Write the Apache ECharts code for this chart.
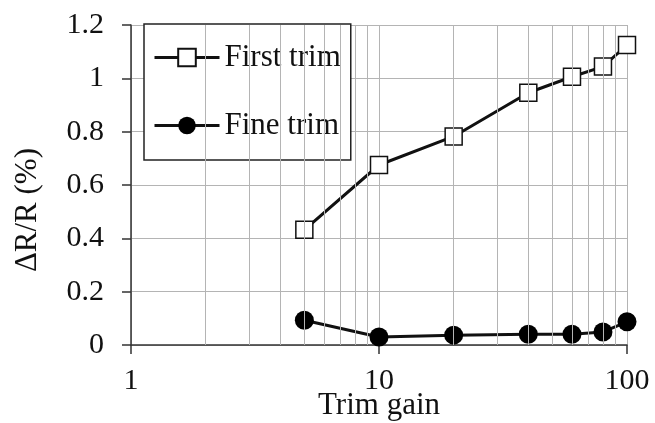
<!DOCTYPE html>
<html>
<head>
<meta charset="utf-8">
<script src="https://cdn.jsdelivr.net/npm/echarts@6/dist/echarts.min.js"></script>
<style>
  html, body { margin: 0; padding: 0; background: #fff; }
  #chart { width: 655px; height: 423px; }
</style>
</head>
<body>
<div id="chart"></div>
<script>
// Trim gain (log scale) vs. resistance change
const trimGain = [5, 10, 20, 40, 60, 80, 100];
const firstTrim = [0.432, 0.675, 0.782, 0.946, 1.006, 1.044, 1.125];
const fineTrim = [0.093, 0.03, 0.037, 0.04, 0.04, 0.049, 0.087];
const seriesNames = ['First trim', 'Fine trim'];
// Intermediate gridlines of the logarithmic axis
const minorGrid = [2, 3, 4, 5, 6, 7, 8, 9, 20, 30, 40, 50, 60, 70, 80, 90];

const FONT = '"Liberation Serif", "Times New Roman", serif';
const INK = '#111';
const GRID = '#b4b4b4';

const pairs = (xs, ys) => xs.map((x, i) => [x, ys[i]]);

const chart = echarts.init(document.getElementById('chart'), null, { renderer: 'canvas' });

chart.setOption({
  animation: false,
  backgroundColor: '#fff',
  grid: { left: 131, right: 28, top: 25, bottom: 78, containLabel: false, outerBoundsMode: 'none' },
  xAxis: {
    type: 'log',
    logBase: 10,
    min: 1,
    max: 100,
    name: 'Trim gain',
    nameLocation: 'middle',
    nameGap: 45,
    nameMoveOverlap: false,
    nameTextStyle: { fontFamily: FONT, fontSize: 31, color: INK },
    axisLine: { show: true, onZero: false, lineStyle: { color: '#333', width: 1.5 } },
    axisTick: { show: true, length: 9, lineStyle: { color: '#333', width: 1.5 } },
    axisLabel: { fontFamily: FONT, fontSize: 30, color: INK, margin: 21 },
    splitLine: { show: true, lineStyle: { color: GRID, width: 1 } },
    minorTick: { show: false },
    minorSplitLine: { show: false }
  },
  yAxis: {
    type: 'value',
    min: 0,
    max: 1.2,
    interval: 0.2,
    axisLine: { show: true, lineStyle: { color: '#333', width: 1.5 } },
    axisTick: { show: true, length: 9, lineStyle: { color: '#333', width: 1.5 } },
    axisLabel: { fontFamily: FONT, fontSize: 30, color: INK, margin: 27 },
    splitLine: { show: true, lineStyle: { color: GRID, width: 1 } }
  },
  legend: {
    data: seriesNames,
    orient: 'vertical',
    left: 144,
    top: 24,
    padding: [18, 10, 19, 9],
    itemGap: 37,
    itemWidth: 65,
    itemHeight: 22,
    lineStyle: { width: 3, color: INK },
    textStyle: { fontFamily: FONT, fontSize: 31, color: INK, lineHeight: 29 },
    backgroundColor: '#fff',
    borderColor: '#222',
    borderWidth: 1.5,
    borderRadius: 0
  },
  graphic: [{
    type: 'text',
    left: 12,
    top: 148,
    rotation: Math.PI / 2,
    style: {
      text: 'ΔR/R (%)',
      font: '31px ' + FONT,
      fill: INK
    }
  }],
  series: [
    {
      name: 'grid-minor',
      type: 'line',
      data: [],
      z: 1,
      silent: true,
      markLine: {
        silent: true,
        symbol: 'none',
        label: { show: false },
        lineStyle: { color: GRID, width: 1, type: 'solid' },
        emphasis: { disabled: true },
        data: minorGrid.map(v => ({ xAxis: v }))
      }
    },
    {
      name: seriesNames[0],
      type: 'line',
      data: pairs(trimGain, firstTrim),
      z: 3,
      symbol: 'rect',
      symbolSize: 17,
      lineStyle: { color: INK, width: 3 },
      itemStyle: { color: '#fff', borderColor: INK, borderWidth: 1.5 }
    },
    {
      name: seriesNames[1],
      type: 'line',
      data: pairs(trimGain, fineTrim),
      z: 3,
      symbol: 'circle',
      symbolSize: 19,
      lineStyle: { color: INK, width: 3 },
      itemStyle: { color: '#000' }
    }
  ]
});
</script>
</body>
</html>
